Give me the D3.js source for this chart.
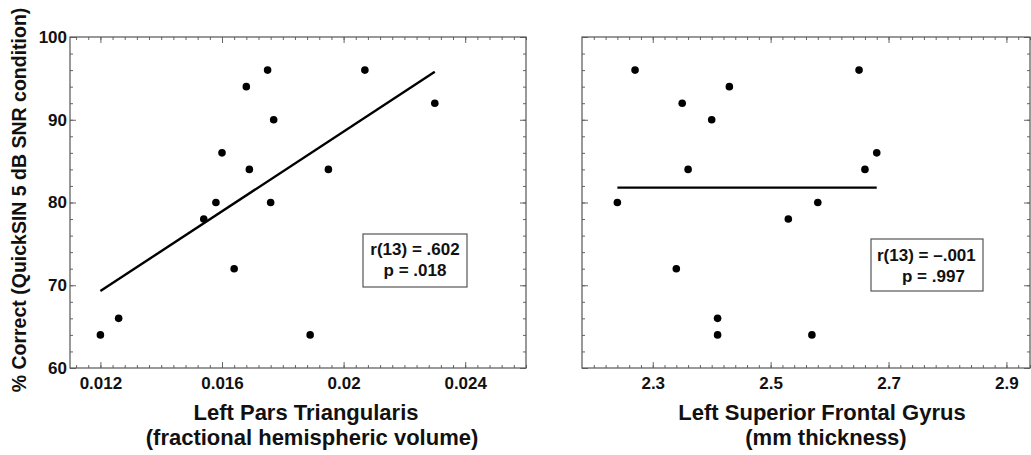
<!DOCTYPE html>
<html>
<head>
<meta charset="utf-8">
<script src="https://cdn.jsdelivr.net/npm/d3@7"></script>
<style>
  body { margin: 0; background: #fff; }
  svg { display: block; font-family: "Liberation Sans", Arial, Helvetica, sans-serif; font-weight: bold; }
</style>
</head>
<body>
<script>
// left panel: pars triangularis volume vs % correct
var parsX = [0.0120, 0.0126, 0.0154, 0.0158, 0.0160, 0.0164, 0.0168, 0.0169, 0.0175, 0.0177, 0.0176, 0.0189, 0.0195, 0.0207, 0.0230];
var parsY = [64, 66, 78, 80, 86, 72, 94, 84, 96, 90, 80, 64, 84, 96, 92];
var parsFitX = [0.0120, 0.0230];
var parsFitY = [69.3, 95.8];
var parsTicks = [0.012, 0.016, 0.02, 0.024];
var parsTickLabels = ["0.012", "0.016", "0.02", "0.024"];
var parsStats = ["r(13) = .602", "p = .018"];

// right panel: superior frontal gyrus thickness vs % correct
var sfgX = [2.24, 2.27, 2.34, 2.35, 2.36, 2.40, 2.41, 2.41, 2.43, 2.53, 2.57, 2.58, 2.65, 2.66, 2.68];
var sfgY = [80, 96, 72, 92, 84, 90, 66, 64, 94, 78, 64, 80, 96, 84, 86];
var sfgFitX = [2.24, 2.68];
var sfgFitY = [81.8, 81.8];
var sfgTicks = [2.3, 2.5, 2.7, 2.9];
var sfgTickLabels = ["2.3", "2.5", "2.7", "2.9"];
var sfgStats = ["r(13) = \u2013.001", "p = .997"];

var yTicks = [60, 70, 80, 90, 100];
var yTickLabels = ["60", "70", "80", "90", "100"];

var width = 1031, height = 455;

var svg = d3.select("body").append("svg")
    .attr("width", width)
    .attr("height", height);

var y = d3.scaleLinear().domain([60, 100]).range([368, 37]);

function panel(opts) {
  var x = d3.scaleLinear().domain(opts.domain).range(opts.range);
  var g = svg.append("g");
  var x0 = opts.range[0], x1 = opts.range[1];
  var y0 = y.range()[0], y1 = y.range()[1];

  var minorX = d3.range(opts.minorStart, opts.domain[1] + 1e-9, opts.minorStep);
  var minorY = d3.range(60, 100.001, 2);

  // minor ticks, all four sides, pointing inward
  g.append("g").attr("transform", `translate(0,${y0})`)
    .call(d3.axisBottom(x).tickValues(minorX).tickSize(-3).tickFormat(""));
  g.append("g").attr("transform", `translate(0,${y1})`)
    .call(d3.axisTop(x).tickValues(minorX).tickSize(-3).tickFormat(""));
  g.append("g").attr("transform", `translate(${x0},0)`)
    .call(d3.axisLeft(y).tickValues(minorY).tickSize(-3).tickFormat(""));
  g.append("g").attr("transform", `translate(${x1},0)`)
    .call(d3.axisRight(y).tickValues(minorY).tickSize(-3).tickFormat(""));

  // major ticks
  g.append("g").attr("class", "xlab").attr("transform", `translate(0,${y0})`)
    .call(d3.axisBottom(x).tickValues(opts.ticks).tickSize(-6).tickPadding(9)
      .tickFormat(function(d, i) { return opts.tickLabels[i]; }));
  g.append("g").attr("transform", `translate(0,${y1})`)
    .call(d3.axisTop(x).tickValues(opts.ticks).tickSize(-6).tickFormat(""));
  g.append("g").attr("class", "ylab").attr("transform", `translate(${x0},0)`)
    .call(d3.axisLeft(y).tickValues(yTicks).tickSize(-6).tickPadding(3)
      .tickFormat(function(d, i) { return opts.showY ? yTickLabels[i] : ""; }));
  g.append("g").attr("transform", `translate(${x1},0)`)
    .call(d3.axisRight(y).tickValues(yTicks).tickSize(-6).tickFormat(""));

  g.selectAll(".domain").remove();
  g.selectAll(".tick line").attr("stroke", "#666");
  g.selectAll(".tick text").attr("fill", "#111")
    .style("font-size", "17px").style("font-weight", "bold")
    .style("font-family", "'Liberation Sans', Arial, sans-serif");

  // frame
  g.append("rect")
    .attr("x", x0).attr("y", y1)
    .attr("width", x1 - x0).attr("height", y0 - y1)
    .attr("fill", "none").attr("stroke", "#555").attr("stroke-width", 1.2);

  // regression line
  g.append("path")
    .datum(d3.zip(opts.fitX, opts.fitY))
    .attr("d", d3.line().x(function(d) { return x(d[0]); }).y(function(d) { return y(d[1]); }))
    .attr("stroke", "#000").attr("stroke-width", 2.4).attr("fill", "none");

  // points
  g.selectAll("circle.pt")
      .data(d3.zip(opts.xs, opts.ys))
    .enter().append("circle")
      .attr("class", "pt")
      .attr("cx", function(d) { return x(d[0]); })
      .attr("cy", function(d) { return y(d[1]); })
      .attr("r", 3.8)
      .attr("fill", "#000");

  // stats box
  var b = opts.box;
  g.append("rect")
    .attr("x", b.x).attr("y", b.y).attr("width", b.w).attr("height", b.h)
    .attr("fill", "#fff").attr("stroke", "#555").attr("stroke-width", 1.2);
  opts.stats.forEach(function(s, i) {
    g.append("text")
      .attr("x", b.tx[i]).attr("y", b.ty[i])
      .attr("text-anchor", b.anchor)
      .style("font-size", "17px")
      .attr("fill", "#111")
      .text(s);
  });

  // axis title, two lines
  opts.title.forEach(function(t, i) {
    g.append("text")
      .attr("x", opts.titleX[i]).attr("y", [420, 445][i])
      .attr("text-anchor", "middle")
      .style("font-size", "22px")
      .attr("fill", "#111")
      .text(t);
  });
}

panel({
  domain: [0.011, 0.026], range: [70, 526],
  minorStart: 0.0112, minorStep: 0.0004,
  ticks: parsTicks, tickLabels: parsTickLabels, showY: true,
  xs: parsX, ys: parsY, fitX: parsFitX, fitY: parsFitY,
  stats: parsStats,
  box: { x: 363, y: 234, w: 104, h: 53, tx: [415, 415], ty: [255, 276], anchor: "middle" },
  title: ["Left Pars Triangularis", "(fractional hemispheric volume)"],
  titleX: [306, 312]
});

panel({
  domain: [2.18, 2.94], range: [582, 1030],
  minorStart: 2.2, minorStep: 0.02,
  ticks: sfgTicks, tickLabels: sfgTickLabels, showY: false,
  xs: sfgX, ys: sfgY, fitX: sfgFitX, fitY: sfgFitY,
  stats: sfgStats,
  box: { x: 871, y: 239, w: 112, h: 52, tx: [877, 902], ty: [261, 282], anchor: "start" },
  title: ["Left Superior Frontal Gyrus", "(mm thickness)"],
  titleX: [822, 826]
});

// shared y-axis title
svg.append("text")
  .attr("transform", "translate(26,200) rotate(-90)")
  .attr("text-anchor", "middle")
  .style("font-size", "19.5px")
  .attr("fill", "#111")
  .text("% Correct (QuickSIN 5 dB SNR condition)");
</script>
</body>
</html>
